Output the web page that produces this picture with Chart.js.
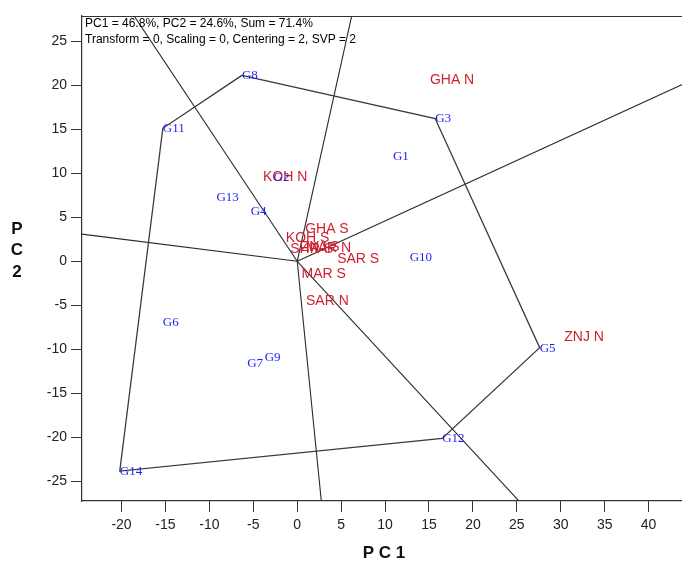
<!DOCTYPE html>
<html>
<head>
<meta charset="utf-8">
<title>GGE biplot</title>
<script src="https://cdn.jsdelivr.net/npm/chart.js@4.4.1/dist/chart.umd.min.js"></script>
<style>
  html, body { margin: 0; padding: 0; background: #fff; overflow: hidden; }
  #wrap { width: 682px; height: 563px; }
</style>
</head>
<body>
<div id="wrap"><canvas id="biplot" width="682" height="563"></canvas></div>
<script>
// genotype scores
const genotypes = ['G1', 'G2', 'G3', 'G4', 'G5', 'G6', 'G7', 'G8', 'G9', 'G10', 'G11', 'G12', 'G13', 'G14'];
const genoPC1 = [10.9, -2.7, 15.7, -5.3, 27.6, -15.3, -5.7, -6.3, -3.7, 12.8, -15.3, 16.5, -9.2, -20.2];
const genoPC2 = [12.0, 9.6, 16.2, 5.7, -9.8, -6.9, -11.5, 21.1, -10.9, 0.5, 15.1, -20.1, 7.3, -23.8];

// environment scores
const environments = ['GHA N', 'GHA S', 'KOH N', 'KOH S', 'SHR S', 'ZNJ S', 'MAR N', 'SAR S', 'MAR S', 'SAR N', 'ZNJ N'];
const envPC1 = [15.1, 0.9, -3.9, -1.3, -0.8, 0.4, 1.0, 4.55, 0.5, 1.0, 30.4];
const envPC2 = [20.6, 3.6, 9.5, 2.6, 1.4, 1.6, 1.5, 0.3, -1.5, -4.5, -8.6];

// polygon (which-won-where) vertices, in drawing order
const hull = ['G8', 'G3', 'G5', 'G12', 'G14', 'G11'];

const xTicks = [-20, -15, -10, -5, 0, 5, 10, 15, 20, 25, 30, 35, 40];
const yTicks = [-25, -20, -15, -10, -5, 0, 5, 10, 15, 20, 25];

const infoLines = ['PC1 = 46.8%, PC2 = 24.6%, Sum = 71.4%', 'Transform = 0, Scaling = 0, Centering = 2, SVP = 2'];

const genoPts = genotypes.map((g, i) => ({ x: genoPC1[i], y: genoPC2[i] }));
const envPts = environments.map((e, i) => ({ x: envPC1[i], y: envPC2[i] }));
const hullPts = hull.map(g => genoPts[genotypes.indexOf(g)]);

// rays from origin, perpendicular to each polygon side
function footOfPerp(a, b) {
    const dx = b.x - a.x, dy = b.y - a.y;
    const t = -(a.x * dx + a.y * dy) / (dx * dx + dy * dy);
    return { x: a.x + t * dx, y: a.y + t * dy };
}
const rayDatasets = hullPts.map((a, i) => {
    const f = footOfPerp(a, hullPts[(i + 1) % hullPts.length]);
    const k = 100 / Math.hypot(f.x, f.y);
    return {
        data: [{ x: 0, y: 0 }, { x: f.x * k, y: f.y * k }],
        showLine: true, borderColor: '#2a2a2a', borderWidth: 1.1, pointRadius: 0
    };
});

const lineColor = '#333';

const labelPlugin = {
    id: 'labels',
    afterDatasetsDraw(chart) {
        const { ctx, chartArea, scales: { x, y } } = chart;
        ctx.save();
        ctx.beginPath();
        ctx.rect(chartArea.left, chartArea.top, chartArea.right - chartArea.left, chartArea.bottom - chartArea.top);
        ctx.clip();
        ctx.textAlign = 'left';
        ctx.textBaseline = 'middle';
        ctx.font = '14px "Liberation Sans", Arial, sans-serif';
        ctx.fillStyle = '#d02030';
        envPts.forEach((p, i) => ctx.fillText(environments[i], x.getPixelForValue(p.x), y.getPixelForValue(p.y)));
        ctx.font = '13px "Liberation Serif", "Times New Roman", serif';
        ctx.fillStyle = '#1c1cff';
        genoPts.forEach((p, i) => ctx.fillText(genotypes[i], x.getPixelForValue(p.x), y.getPixelForValue(p.y) + 0.5));
        ctx.restore();

        ctx.save();
        // top frame line
        ctx.strokeStyle = lineColor;
        ctx.lineWidth = 1;
        ctx.beginPath();
        ctx.moveTo(chartArea.left, chartArea.top + 0.5);
        ctx.lineTo(chartArea.right, chartArea.top + 0.5);
        ctx.stroke();
        // info text
        ctx.fillStyle = '#000';
        ctx.font = '12px "Liberation Sans", Arial, sans-serif';
        ctx.textAlign = 'left';
        ctx.textBaseline = 'middle';
        ctx.fillText(infoLines[0], chartArea.left + 3, chartArea.top + 8);
        ctx.fillText(infoLines[1], chartArea.left + 3, chartArea.top + 24);
        // axis titles
        ctx.fillStyle = '#111';
        ctx.font = 'bold 17px "Liberation Sans", Arial, sans-serif';
        ctx.textAlign = 'center';
        ctx.fillText('P C 1', (chartArea.left + chartArea.right) / 2 + 2, 553);
        ['P', 'C', '2'].forEach((c, i) => ctx.fillText(c, 17, 229 + i * 21.5));
        ctx.restore();
    }
};

const ctx = document.getElementById('biplot').getContext('2d');
const biplot = new Chart(ctx, {
    type: 'scatter',
    data: {
        datasets: [
            {
                data: hullPts.concat([hullPts[0]]),
                showLine: true, borderColor: '#3a3a3a', borderWidth: 1.3, pointRadius: 0
            },
            ...rayDatasets
        ]
    },
    options: {
        responsive: false,
        animation: false,
        layout: { padding: { top: 16, right: 0, left: 0, bottom: 0 } },
        plugins: { legend: { display: false }, tooltip: { enabled: false } },
        scales: {
            x: {
                type: 'linear', min: -24.5, max: 43.8,
                afterBuildTicks: s => { s.ticks = xTicks.map(v => ({ value: v })); },
                afterFit: s => { s.height = 62; },
                grid: { drawOnChartArea: false, tickLength: 11, tickColor: lineColor },
                border: { color: lineColor, width: 1.2 },
                ticks: { autoSkip: false, maxRotation: 0, padding: 5, color: '#222',
                         font: { family: '"Liberation Sans", Arial, sans-serif', size: 14 } }
            },
            y: {
                type: 'linear', min: -27.2, max: 27.84,
                afterBuildTicks: s => { s.ticks = yTicks.map(v => ({ value: v })); },
                afterFit: s => { s.width = 82; },
                grid: { drawOnChartArea: false, tickLength: 11, tickColor: lineColor },
                border: { color: lineColor, width: 1.2 },
                ticks: { autoSkip: false, padding: 4, color: '#222',
                         font: { family: '"Liberation Sans", Arial, sans-serif', size: 14 } }
            }
        }
    },
    plugins: [labelPlugin]
});
</script>
</body>
</html>
